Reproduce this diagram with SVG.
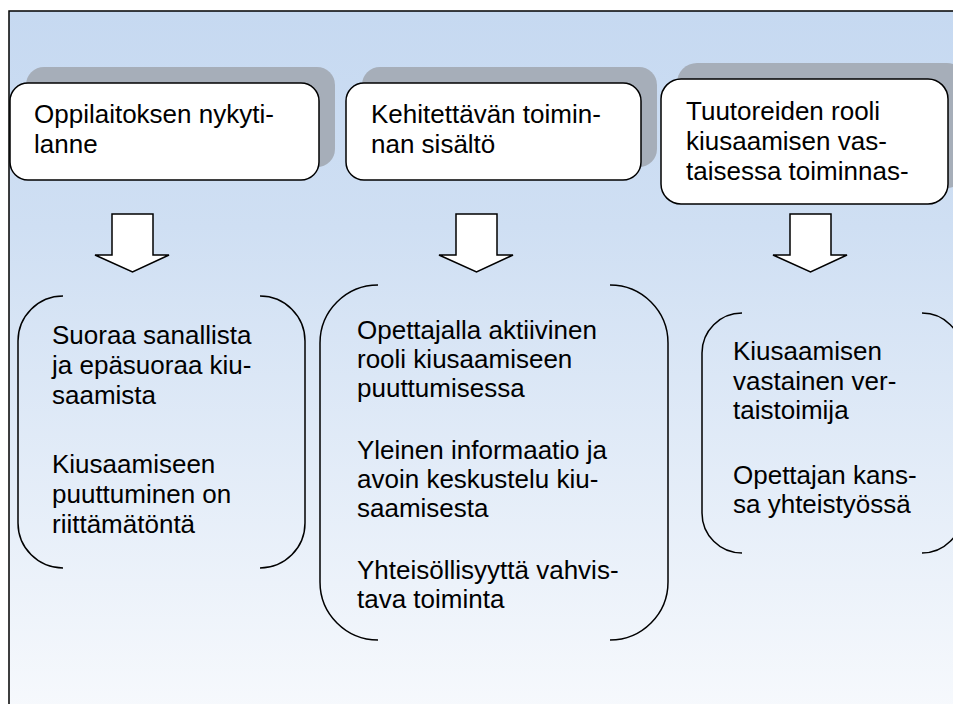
<svg xmlns="http://www.w3.org/2000/svg" width="953" height="704" viewBox="0 0 953 704">
  <defs>
    <linearGradient id="bg" x1="0" y1="0" x2="0" y2="1">
      <stop offset="0" stop-color="#c6d9f1"/>
      <stop offset="0.3" stop-color="#cfdff3"/>
      <stop offset="1" stop-color="#f8fafd"/>
    </linearGradient>
    <style>
      .frame { fill: url(#bg); stroke: #000; stroke-width: 1.5; }
      .shadow { fill: #a6aeb9; }
      .box { fill: #fff; stroke: #000; stroke-width: 1.5; }
      .bracket { fill: none; stroke: #000; stroke-width: 1.5; }
      .arrow { fill: #fff; stroke: #000; stroke-width: 1.5; stroke-linejoin: miter; }
      text { font-family: "Liberation Sans", Arial, sans-serif; font-size: 26px; fill: #000; }
    </style>
  </defs>

  <!-- background canvas -->
  <rect class="frame" x="9" y="11" width="960" height="720"/>

  <!-- heading boxes -->
  <g id="heading-1">
    <rect class="shadow" x="26" y="67" width="309" height="100" rx="18"/>
    <rect class="box" x="10" y="83" width="309" height="97" rx="18"/>
    <text x="34"><tspan y="123">Oppilaitoksen nykyti-</tspan><tspan x="34" y="153">lanne</tspan></text>
  </g>
  <g id="heading-2">
    <rect class="shadow" x="362" y="67" width="295" height="100" rx="18"/>
    <rect class="box" x="346" y="83" width="295" height="97" rx="18"/>
    <text x="371"><tspan y="123">Kehitettävän toimin-</tspan><tspan x="371" y="153">nan sisältö</tspan></text>
  </g>
  <g id="heading-3">
    <rect class="shadow" x="677" y="63" width="290" height="125" rx="20"/>
    <rect class="box" x="661" y="79" width="287" height="125" rx="20"/>
    <text x="686"><tspan y="120">Tuutoreiden rooli</tspan><tspan x="686" y="150">kiusaamisen vas-</tspan><tspan x="686" y="180">taisessa toiminnas-</tspan></text>
  </g>

  <!-- block arrows -->
  <g id="connectors">
    <path class="arrow" d="M112,214 H153 V255 H169 L132.5,272 L95,255 H112 Z"/>
    <path class="arrow" d="M456,214 H497 V255 H513 L476.5,272 L439,255 H456 Z"/>
    <path class="arrow" d="M790,214 H831 V255 H847 L810.5,272 L773,255 H790 Z"/>
  </g>

  <!-- content brackets -->
  <g id="content-1">
    <path class="bracket" d="M63,296 A45,45 0 0 0 18,341 V523 A45,45 0 0 0 63,568"/>
    <path class="bracket" d="M260,296 A45,45 0 0 1 305,341 V523 A45,45 0 0 1 260,568"/>
    <text x="52"><tspan y="344">Suoraa sanallista</tspan><tspan x="52" y="374">ja epäsuoraa kiu-</tspan><tspan x="52" y="404">saamista</tspan><tspan x="52" y="473">Kiusaamiseen</tspan><tspan x="52" y="503">puuttuminen on</tspan><tspan x="52" y="533">riittämätöntä</tspan></text>
  </g>
  <g id="content-2">
    <path class="bracket" d="M378,285 A58,58 0 0 0 320,343 V582 A58,58 0 0 0 378,640"/>
    <path class="bracket" d="M610,285 A58,58 0 0 1 668,343 V582 A58,58 0 0 1 610,640"/>
    <text x="357"><tspan y="339">Opettajalla aktiivinen</tspan><tspan x="357" y="368">rooli kiusaamiseen</tspan><tspan x="357" y="397">puuttumisessa</tspan><tspan x="357" y="459">Yleinen informaatio ja</tspan><tspan x="357" y="488">avoin keskustelu kiu-</tspan><tspan x="357" y="517">saamisesta</tspan><tspan x="357" y="579">Yhteisöllisyyttä vahvis-</tspan><tspan x="357" y="608">tava toiminta</tspan></text>
  </g>
  <g id="content-3">
    <path class="bracket" d="M742,313 A40,40 0 0 0 702,353 V513 A40,40 0 0 0 742,553"/>
    <path class="bracket" d="M922,313 A40,40 0 0 1 962,353 V513 A40,40 0 0 1 922,553"/>
    <text x="733"><tspan y="360">Kiusaamisen</tspan><tspan x="733" y="390">vastainen ver-</tspan><tspan x="733" y="419">taistoimija</tspan><tspan x="733" y="484">Opettajan kans-</tspan><tspan x="733" y="513">sa yhteistyössä</tspan></text>
  </g>
</svg>
